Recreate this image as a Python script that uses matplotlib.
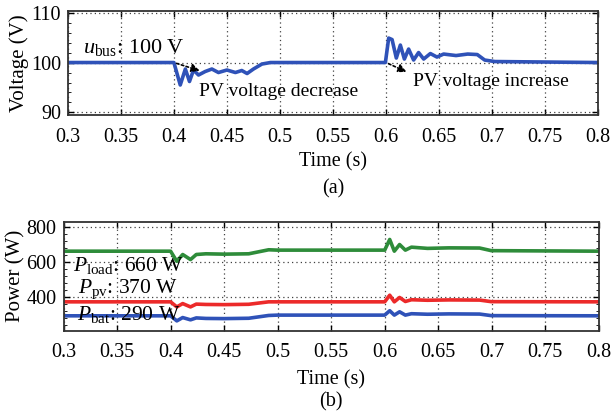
import matplotlib
matplotlib.use("Agg")
import matplotlib.pyplot as plt
from matplotlib.ticker import MultipleLocator

plt.rcParams['font.family'] = ['Liberation Serif', 'DejaVu Serif']
plt.rcParams['mathtext.fontset'] = 'custom'
plt.rcParams['mathtext.rm'] = 'Liberation Serif'
plt.rcParams['mathtext.it'] = 'Liberation Serif:italic'
plt.rcParams['font.size'] = 14

# bus voltage (V)
t_bus = [0.3, 0.4, 0.406, 0.4108, 0.4147, 0.4185, 0.4232, 0.4295, 0.4358, 0.442,
         0.45, 0.458, 0.464, 0.469, 0.475, 0.483, 0.491, 0.5994, 0.6025, 0.6057,
         0.6097, 0.6135, 0.6173, 0.6213, 0.626, 0.6307, 0.6355, 0.6418, 0.648,
         0.6543, 0.666, 0.677, 0.686, 0.693, 0.7026, 0.8]
u_bus = [100, 100, 95.5, 98.7, 96.2, 98.5, 97.5, 98.2, 98.7, 98.0,
         98.5, 98.0, 98.4, 97.8, 98.7, 99.7, 100, 100, 104.9, 104.6,
         100.9, 103.5, 100.7, 102.7, 100.5, 102.0, 100.7, 101.8, 101.1,
         101.7, 101.4, 101.7, 101.6, 100.5, 100.2, 100]

# powers (W)
t_pow = [0.3, 0.4, 0.4058, 0.4113, 0.4186, 0.424, 0.433, 0.45, 0.473, 0.4916,
         0.5, 0.6, 0.6047, 0.609, 0.6139, 0.6193, 0.625, 0.64, 0.66, 0.6887,
         0.6996, 0.8]
p_load = [660, 660, 602, 641, 612, 641, 645, 643, 645, 668,
          666, 666, 727, 660, 698, 666, 683, 676, 679, 678,
          663, 660]
p_pv = [370, 370, 341, 360, 341, 357, 355, 354, 356, 370,
        370, 370, 408, 370, 395, 372, 382, 379, 381, 380,
        371, 370]
p_bat = [290, 290, 261, 280, 267, 278, 275, 274, 276, 292,
         294, 294, 319, 294, 313, 294, 302, 299, 301, 300,
         291, 290]

x_ticks = [0.3, 0.35, 0.4, 0.45, 0.5, 0.55, 0.6, 0.65, 0.7, 0.75, 0.8]
x_labels = ['0.3', '0.35', '0.4', '0.45', '0.5', '0.55', '0.6', '0.65', '0.7', '0.75', '0.8']

blue = '#2f52b8'
red = '#ec2a2a'
green = '#2e8c3a'

fig = plt.figure(figsize=(6.11, 4.12), dpi=100)
ax1 = fig.add_axes([0.111, 0.721, 0.868, 0.252])
ax2 = fig.add_axes([0.104, 0.197, 0.876, 0.265])


def style(ax, xpad, lpad):
    ax.set_xlim(0.3, 0.8)
    ax.set_xticks(x_ticks)
    ax.set_xticklabels(x_labels)
    ax.grid(True, color='0.25', linestyle=(0, (1, 2.5)), linewidth=0.9)
    ax.tick_params(direction='in', top=True, right=True, length=4, width=1,
                   pad=5, labelsize=14.5)
    ax.tick_params(axis='x', pad=xpad)
    ax.tick_params(which='minor', direction='in', left=True, right=True, length=2)
    for s in ax.spines.values():
        s.set_linewidth(1.3)
        s.set_color('0.2')
    ax.set_xlabel('Time (s)', fontsize=14.5, labelpad=lpad)


ax1.plot(t_bus, u_bus, color=blue, lw=2.6)
style(ax1, 9.5, 4)
ax1.set_ylim(89.5, 110.3)
ax1.set_yticks([90, 100, 110])
ax1.yaxis.set_minor_locator(MultipleLocator(2))
ax1.set_ylabel('Voltage (V)', fontsize=15, labelpad=1)
ax1.text(0.3147, 101.9, r'$u_{\rm bus}$: 100 V', fontsize=16)
arr = dict(arrowstyle='-|>', linestyle=(0, (1.5, 1.5)), color='k', lw=1.2, mutation_scale=12)
ax1.annotate('', xy=(0.4268, 98.2), xytext=(0.4, 100), arrowprops=arr)
ax1.annotate('', xy=(0.6217, 97.9), xytext=(0.6, 100), arrowprops=arr)
ax1.text(0.424, 93.2, 'PV voltage decrease')
ax1.text(0.625, 95.2, 'PV voltage increase')
ax1.text(0.5, -0.76, '(a)', transform=ax1.transAxes, ha='center', fontsize=14.5)

ax2.plot(t_pow, p_load, color=green, lw=2.6)
ax2.plot(t_pow, p_pv, color=red, lw=2.6)
ax2.plot(t_pow, p_bat, color=blue, lw=2.6)
style(ax2, 9, 6)
ax2.set_ylim(204, 829)
ax2.set_yticks([400, 600, 800])
ax2.yaxis.set_minor_locator(MultipleLocator(40))
ax2.set_ylabel('Power (W)', fontsize=15, labelpad=1)
ax2.text(0.3084, 544, r'$P_{\rm load}$: 660 W', fontsize=15.5)
ax2.text(0.3139, 423, r'$P_{\rm pv}$: 370 W', fontsize=15.5)
ax2.text(0.3128, 265, r'$P_{\rm bat}$: 290 W', fontsize=15.5)
ax2.text(0.5, -0.69, '(b)', transform=ax2.transAxes, ha='center', fontsize=14.5)

fig.savefig('out.png', dpi=100)
